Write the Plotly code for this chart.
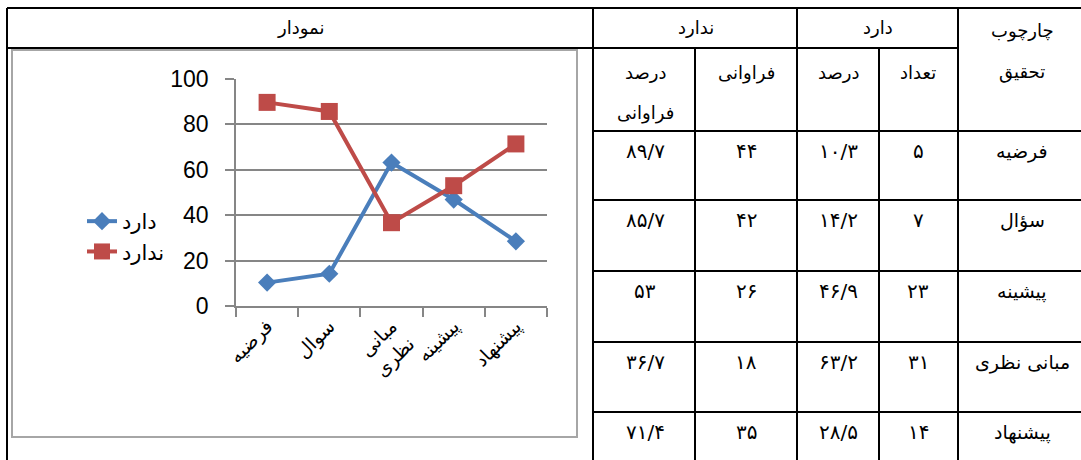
import plotly.graph_objects as go

# ---- data ----
chart_categories = ["فرضیه", "سوال", "مبانی<br>نظری", "پیشینه", "پیشنهاد"]
series_dard = [10.3, 14.2, 63.2, 46.9, 28.5]
series_nadard = [89.7, 85.7, 36.7, 53, 71.4]
y_ticks = [0, 20, 40, 60, 80, 100]

table_categories = ["فرضیه", "سؤال", "پیشینه", "مبانی نظری", "پیشنهاد"]
dard_count = [5, 7, 23, 31, 14]
dard_pct = [10.3, 14.2, 46.9, 63.2, 28.5]
nadard_freq = [44, 42, 26, 18, 35]
nadard_pct = [89.7, 85.7, 53, 36.7, 71.4]

W, H = 1081, 460
FA = "DejaVu Sans"
FA_DIGITS = str.maketrans("0123456789.", "۰۱۲۳۴۵۶۷۸۹/")


def fa(v):
    s = ("%g" % v)
    return s.translate(FA_DIGITS)


def px(x):
    return x / W


def py(y):
    return 1 - y / H


fig = go.Figure()

fig.add_trace(go.Scatter(
    x=chart_categories, y=series_dard, name="دارد", mode="lines+markers",
    line=dict(color="#4A7EBB", width=4),
    marker=dict(symbol="diamond", size=14, color="#4A7EBB"),
))
fig.add_trace(go.Scatter(
    x=chart_categories, y=series_nadard, name="ندارد", mode="lines+markers",
    line=dict(color="#BE4B48", width=4),
    marker=dict(symbol="square", size=17, color="#BE4B48"),
))

shapes = []
BLACK = dict(color="black", width=2)


def hline(y, x0, x1):
    shapes.append(dict(type="line", xref="paper", yref="paper",
                       x0=px(x0), x1=px(x1), y0=py(y), y1=py(y), line=BLACK))


def vline(x, y0, y1):
    shapes.append(dict(type="line", xref="paper", yref="paper",
                       x0=px(x), x1=px(x), y0=py(y0), y1=py(y1), line=BLACK))


hline(8, 7, 1081)
hline(48, 7, 958)
hline(131, 593, 1081)
row_tops = [131, 200, 271, 342, 412]
for r in row_tops[1:]:
    hline(r, 593, 1081)
vline(7, 8, 460)
vline(593, 8, 460)
vline(695, 48, 460)
vline(797, 8, 460)
vline(879, 48, 460)
vline(958, 8, 460)

# chart frame
shapes.append(dict(type="rect", xref="paper", yref="paper",
                   x0=px(12), x1=px(577), y0=py(437), y1=py(50),
                   line=dict(color="#A6A6A6", width=2)))

annotations = []


def txt(x, y, s, anchor="center", size=18):
    annotations.append(dict(xref="paper", yref="paper", x=px(x), y=py(y),
                            text=s, showarrow=False, xanchor=anchor,
                            yanchor="middle",
                            font=dict(family=FA, size=size, color="black")))


txt(300, 28, "نمودار")
txt(696, 28, "ندارد")
txt(878, 28, "دارد")
txt(1022, 31, "چارچوب")
txt(1022, 72, "تحقیق")
txt(645, 73, "درصد")
txt(645, 113, "فراوانی")
txt(746, 73, "فراوانی")
txt(838, 73, "درصد")
txt(918, 73, "تعداد")

for i, top in enumerate(row_tops):
    yy = top + 20
    txt(645, yy, fa(nadard_pct[i]), size=20)
    txt(746, yy, fa(nadard_freq[i]), size=20)
    txt(838, yy, fa(dard_pct[i]), size=20)
    txt(918, yy, fa(dard_count[i]), size=20)
    txt(1022, yy, table_categories[i], size=19)

GRID = "#868686"
fig.update_layout(
    template="none",
    width=W, height=H,
    margin=dict(l=0, r=0, t=0, b=0, autoexpand=False),
    paper_bgcolor="white", plot_bgcolor="white",
    shapes=shapes, annotations=annotations,
    showlegend=True,
    legend=dict(x=px(82), y=py(201), xanchor="left", yanchor="top",
                font=dict(family=FA, size=21, color="black"),
                bgcolor="rgba(0,0,0,0)", tracegroupgap=0),
    xaxis=dict(domain=[px(236), px(547)], type="category", automargin=False,
               range=[-0.5, 4.5], tickson="boundaries",
               ticks="outside", ticklen=9, tickcolor=GRID, tickwidth=1.5,
               showline=True, linecolor=GRID, linewidth=1.5,
               showgrid=False, tickangle=-45,
               tickfont=dict(family=FA, size=19, color="black")),
    yaxis=dict(domain=[py(306), py(79)], range=[0, 100], automargin=False,
               tickvals=y_ticks, ticks="outside", ticklen=9,
               tickcolor=GRID, tickwidth=1.5,
               showline=True, linecolor=GRID, linewidth=1.5,
               showgrid=True, gridcolor=GRID, gridwidth=1.5,
               zeroline=False, ticklabelstandoff=12,
               tickfont=dict(family="Liberation Sans", size=23, color="black")),
)

fig.write_html("out.html",
               config={"displayModeBar": False},
               post_script="document.body.style.margin='0';"
                           "document.body.style.overflow='hidden';")
